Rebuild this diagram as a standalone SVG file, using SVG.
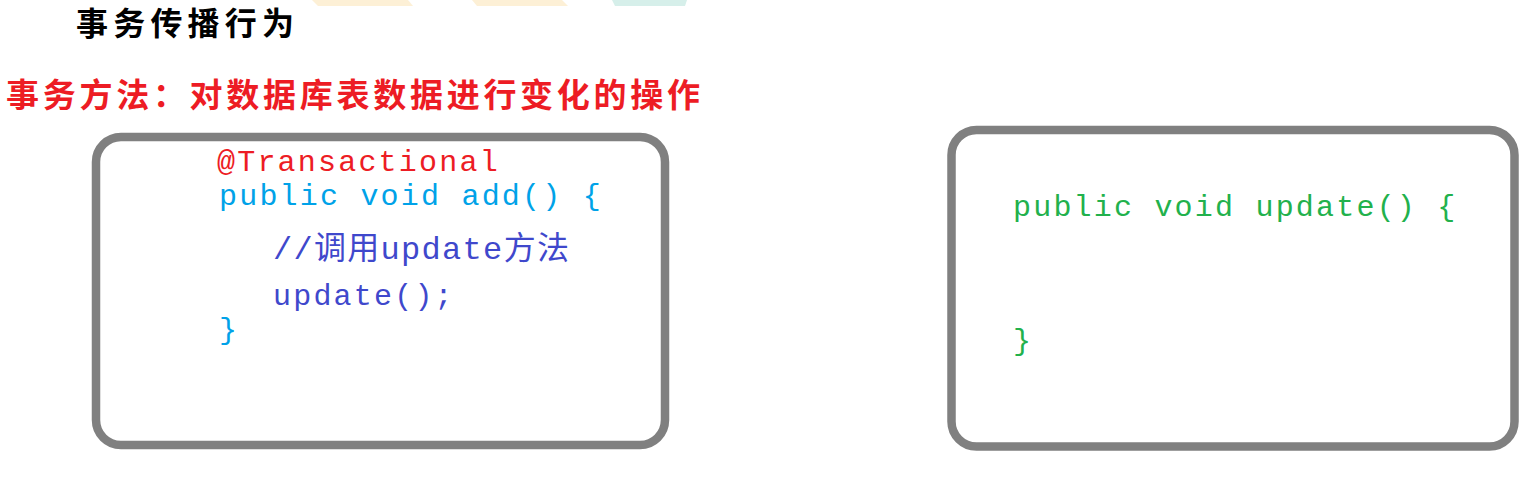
<svg xmlns="http://www.w3.org/2000/svg" width="1534" height="477" viewBox="0 0 1534 477">
<style>
.box{fill:#ffffff;stroke:#808080;stroke-width:8.5}
.cjk{font-family:"Noto Sans CJK SC","Noto Sans CJK JP",sans-serif;font-weight:bold;font-size:32px}
.code{font-family:"Liberation Mono","Noto Sans CJK SC",monospace;font-size:30px;letter-spacing:2.2px}
.cmt{font-size:32px;letter-spacing:1.3px}
</style>
<rect width="1534" height="477" fill="#ffffff"/>
<g id="watermark">
<polygon points="312,0 408,0 413,6 318,6" fill="#fdf0d6"/>
<polygon points="472,0 562,0 568,6 477,6" fill="#fdf0d6"/>
<polygon points="612,0 687,0 685,6 615,6" fill="#d6efea"/>
</g>
<g id="title">
<text class="cjk" x="76" y="35" textLength="218" lengthAdjust="spacing" fill="#000000">事务传播行为</text>
</g>
<g id="subtitle">
<text class="cjk" x="6" y="107" textLength="694" lengthAdjust="spacing" fill="#ed1c24" style="font-size:33px">事务方法：对数据库表数据进行变化的操作</text>
</g>
<g id="add-method">
<rect class="box" x="96" y="137" width="569" height="308" rx="25" ry="25"/>
<text class="code" x="217" y="171" fill="#ed1c24">@Transactional</text>
<text class="code" x="219" y="205" fill="#00a2e8">public void add() {</text>
<text class="code cmt" x="273" y="259" fill="#3f48cc">//调用update方法</text>
<text class="code" x="273" y="305" fill="#3f48cc">update();</text>
<text class="code" x="219" y="339" fill="#00a2e8">}</text>
</g>
<g id="update-method">
<rect class="box" x="951.5" y="130" width="563" height="316.5" rx="25" ry="25"/>
<text class="code" x="1013" y="216" fill="#22b14c">public void update() {</text>
<text class="code" x="1013" y="350" fill="#22b14c">}</text>
</g>
<g id="connectors"></g>
</svg>
